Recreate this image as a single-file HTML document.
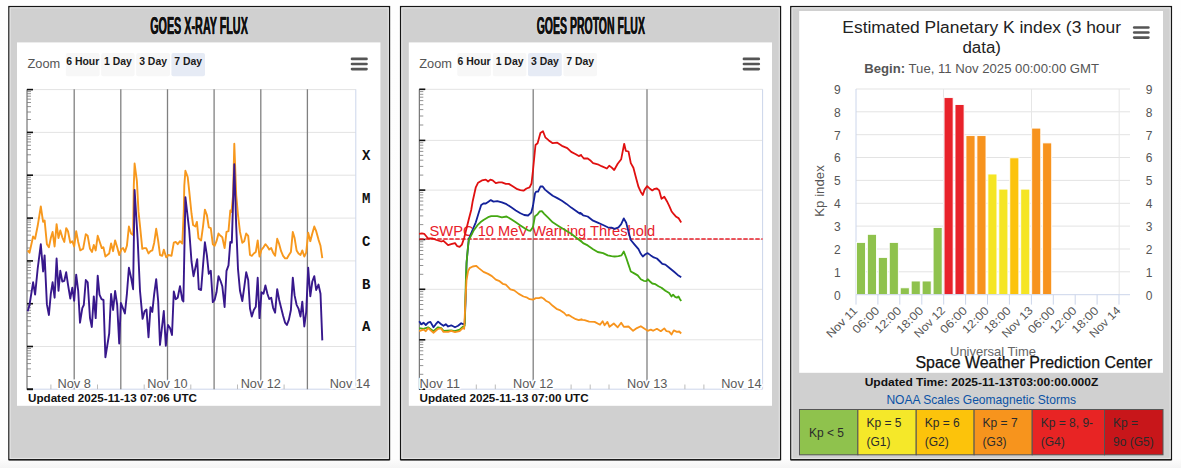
<!DOCTYPE html>
<html><head><meta charset="utf-8"><title>Space Weather</title>
<style>
html,body{margin:0;padding:0;background:#fff;}
body{width:1181px;height:468px;overflow:hidden;font-family:"Liberation Sans",sans-serif;}
svg{display:block}
text{font-family:"Liberation Sans",sans-serif;}
.mono{font-family:"Liberation Mono",monospace;}
</style></head><body>
<svg width="1181" height="468" viewBox="0 0 1181 468">
<defs><linearGradient id="bg" x1="0" y1="0" x2="0" y2="1"><stop offset="0" stop-color="#fefefe"/><stop offset="0.98" stop-color="#fdfdfd"/><stop offset="1" stop-color="#f4f4f4"/></linearGradient></defs>
<rect x="0" y="0" width="1181" height="468" fill="url(#bg)"/>

<rect x="8.9" y="6.6" width="380.6" height="453.0" fill="#d0d0d0" stroke="#151515" stroke-width="1.35"/>
<line x1="8.9" y1="460.2" x2="389.5" y2="460.2" stroke="#333" stroke-width="0.8"/>
<rect x="10.1" y="7.8" width="378.2" height="450.6" fill="none" stroke="#e8e8e8" stroke-width="1"/>
<rect x="17" y="42.4" width="363.4" height="363.4" fill="#fff"/>
<text x="199" y="33.5" font-size="23.5" font-weight="bold" fill="#111" stroke="#e4e4e4" stroke-width="2" paint-order="stroke" stroke-linejoin="round" text-anchor="middle" textLength="97.7" lengthAdjust="spacingAndGlyphs">GOES X-RAY FLUX</text>
<text x="199" y="33.5" font-size="23.5" font-weight="bold" fill="#111" stroke="#111" stroke-width="0.45" text-anchor="middle" textLength="97.7" lengthAdjust="spacingAndGlyphs">GOES X-RAY FLUX</text>
<text x="27.5" y="67.7" font-size="12.5" fill="#555" textLength="32.7" lengthAdjust="spacingAndGlyphs">Zoom</text>
<rect x="65.8" y="53" width="33.8" height="23.3" rx="2" fill="#f7f7f7"/>
<text x="82.7" y="64.9" font-size="10.2" font-weight="bold" fill="#1a1a1a" text-anchor="middle" textLength="33" lengthAdjust="spacingAndGlyphs">6 Hour</text>
<rect x="101.2" y="53" width="33.4" height="23.3" rx="2" fill="#f7f7f7"/>
<text x="117.9" y="64.9" font-size="10.2" font-weight="bold" fill="#1a1a1a" text-anchor="middle" textLength="27.8" lengthAdjust="spacingAndGlyphs">1 Day</text>
<rect x="136.2" y="53" width="33.8" height="23.3" rx="2" fill="#f7f7f7"/>
<text x="153.1" y="64.9" font-size="10.2" font-weight="bold" fill="#1a1a1a" text-anchor="middle" textLength="27.8" lengthAdjust="spacingAndGlyphs">3 Day</text>
<rect x="171.4" y="53" width="33.6" height="23.3" rx="2" fill="#e6ebf5"/>
<text x="188.2" y="64.9" font-size="10.2" font-weight="bold" fill="#1a1a1a" text-anchor="middle" textLength="27.8" lengthAdjust="spacingAndGlyphs">7 Day</text>
<line x1="352.0" y1="58.9" x2="366.5" y2="58.9" stroke="#555" stroke-width="2.6" stroke-linecap="round"/>
<line x1="352.0" y1="64" x2="366.5" y2="64" stroke="#555" stroke-width="2.6" stroke-linecap="round"/>
<line x1="352.0" y1="69.1" x2="366.5" y2="69.1" stroke="#555" stroke-width="2.6" stroke-linecap="round"/>
<line x1="27" y1="89.6" x2="355.8" y2="89.6" stroke="#e3e3e3" stroke-width="1"/>
<line x1="27" y1="132.4" x2="355.8" y2="132.4" stroke="#e3e3e3" stroke-width="1"/>
<line x1="27" y1="175.2" x2="355.8" y2="175.2" stroke="#e3e3e3" stroke-width="1"/>
<line x1="27" y1="218.1" x2="355.8" y2="218.1" stroke="#e3e3e3" stroke-width="1"/>
<line x1="27" y1="260.9" x2="355.8" y2="260.9" stroke="#e3e3e3" stroke-width="1"/>
<line x1="27" y1="303.7" x2="355.8" y2="303.7" stroke="#e3e3e3" stroke-width="1"/>
<line x1="27" y1="346.5" x2="355.8" y2="346.5" stroke="#e3e3e3" stroke-width="1"/>
<line x1="355.8" y1="89.3" x2="355.8" y2="389.2" stroke="#ccd6eb" stroke-width="1"/>
<line x1="27" y1="389.2" x2="355.8" y2="389.2" stroke="#ccd6eb" stroke-width="1"/>
<line x1="74.2" y1="89.3" x2="74.2" y2="389.2" stroke="#808080" stroke-width="1.3"/>
<line x1="120.8" y1="89.3" x2="120.8" y2="389.2" stroke="#808080" stroke-width="1.3"/>
<line x1="167.5" y1="89.3" x2="167.5" y2="389.2" stroke="#808080" stroke-width="1.3"/>
<line x1="214.1" y1="89.3" x2="214.1" y2="389.2" stroke="#808080" stroke-width="1.3"/>
<line x1="260.8" y1="89.3" x2="260.8" y2="389.2" stroke="#808080" stroke-width="1.3"/>
<line x1="307.4" y1="89.3" x2="307.4" y2="389.2" stroke="#808080" stroke-width="1.3"/>
<line x1="50.9" y1="384.5" x2="50.9" y2="389.2" stroke="#bbb" stroke-width="1"/>
<line x1="97.5" y1="384.5" x2="97.5" y2="389.2" stroke="#bbb" stroke-width="1"/>
<line x1="144.2" y1="384.5" x2="144.2" y2="389.2" stroke="#bbb" stroke-width="1"/>
<line x1="190.8" y1="384.5" x2="190.8" y2="389.2" stroke="#bbb" stroke-width="1"/>
<line x1="237.5" y1="384.5" x2="237.5" y2="389.2" stroke="#bbb" stroke-width="1"/>
<line x1="284.1" y1="384.5" x2="284.1" y2="389.2" stroke="#bbb" stroke-width="1"/>
<line x1="330.8" y1="384.5" x2="330.8" y2="389.2" stroke="#bbb" stroke-width="1"/>
<line x1="27" y1="89.3" x2="27" y2="389.7" stroke="#5a5a5a" stroke-width="1"/>
<line x1="27" y1="119.5" x2="31" y2="119.5" stroke="#777" stroke-width="0.8"/>
<line x1="27" y1="112.0" x2="31" y2="112.0" stroke="#777" stroke-width="0.8"/>
<line x1="27" y1="106.6" x2="31" y2="106.6" stroke="#777" stroke-width="0.8"/>
<line x1="27" y1="102.5" x2="31" y2="102.5" stroke="#777" stroke-width="0.8"/>
<line x1="27" y1="99.1" x2="31" y2="99.1" stroke="#777" stroke-width="0.8"/>
<line x1="27" y1="96.2" x2="31" y2="96.2" stroke="#777" stroke-width="0.8"/>
<line x1="27" y1="93.7" x2="31" y2="93.7" stroke="#777" stroke-width="0.8"/>
<line x1="27" y1="91.6" x2="31" y2="91.6" stroke="#777" stroke-width="0.8"/>
<line x1="27" y1="162.3" x2="31" y2="162.3" stroke="#777" stroke-width="0.8"/>
<line x1="27" y1="154.8" x2="31" y2="154.8" stroke="#777" stroke-width="0.8"/>
<line x1="27" y1="149.5" x2="31" y2="149.5" stroke="#777" stroke-width="0.8"/>
<line x1="27" y1="145.3" x2="31" y2="145.3" stroke="#777" stroke-width="0.8"/>
<line x1="27" y1="141.9" x2="31" y2="141.9" stroke="#777" stroke-width="0.8"/>
<line x1="27" y1="139.1" x2="31" y2="139.1" stroke="#777" stroke-width="0.8"/>
<line x1="27" y1="136.6" x2="31" y2="136.6" stroke="#777" stroke-width="0.8"/>
<line x1="27" y1="134.4" x2="31" y2="134.4" stroke="#777" stroke-width="0.8"/>
<line x1="27" y1="205.2" x2="31" y2="205.2" stroke="#777" stroke-width="0.8"/>
<line x1="27" y1="197.6" x2="31" y2="197.6" stroke="#777" stroke-width="0.8"/>
<line x1="27" y1="192.3" x2="31" y2="192.3" stroke="#777" stroke-width="0.8"/>
<line x1="27" y1="188.1" x2="31" y2="188.1" stroke="#777" stroke-width="0.8"/>
<line x1="27" y1="184.7" x2="31" y2="184.7" stroke="#777" stroke-width="0.8"/>
<line x1="27" y1="181.9" x2="31" y2="181.9" stroke="#777" stroke-width="0.8"/>
<line x1="27" y1="179.4" x2="31" y2="179.4" stroke="#777" stroke-width="0.8"/>
<line x1="27" y1="177.2" x2="31" y2="177.2" stroke="#777" stroke-width="0.8"/>
<line x1="27" y1="248.0" x2="31" y2="248.0" stroke="#777" stroke-width="0.8"/>
<line x1="27" y1="240.4" x2="31" y2="240.4" stroke="#777" stroke-width="0.8"/>
<line x1="27" y1="235.1" x2="31" y2="235.1" stroke="#777" stroke-width="0.8"/>
<line x1="27" y1="231.0" x2="31" y2="231.0" stroke="#777" stroke-width="0.8"/>
<line x1="27" y1="227.6" x2="31" y2="227.6" stroke="#777" stroke-width="0.8"/>
<line x1="27" y1="224.7" x2="31" y2="224.7" stroke="#777" stroke-width="0.8"/>
<line x1="27" y1="222.2" x2="31" y2="222.2" stroke="#777" stroke-width="0.8"/>
<line x1="27" y1="220.0" x2="31" y2="220.0" stroke="#777" stroke-width="0.8"/>
<line x1="27" y1="290.8" x2="31" y2="290.8" stroke="#777" stroke-width="0.8"/>
<line x1="27" y1="283.3" x2="31" y2="283.3" stroke="#777" stroke-width="0.8"/>
<line x1="27" y1="277.9" x2="31" y2="277.9" stroke="#777" stroke-width="0.8"/>
<line x1="27" y1="273.8" x2="31" y2="273.8" stroke="#777" stroke-width="0.8"/>
<line x1="27" y1="270.4" x2="31" y2="270.4" stroke="#777" stroke-width="0.8"/>
<line x1="27" y1="267.5" x2="31" y2="267.5" stroke="#777" stroke-width="0.8"/>
<line x1="27" y1="265.0" x2="31" y2="265.0" stroke="#777" stroke-width="0.8"/>
<line x1="27" y1="262.8" x2="31" y2="262.8" stroke="#777" stroke-width="0.8"/>
<line x1="27" y1="333.6" x2="31" y2="333.6" stroke="#777" stroke-width="0.8"/>
<line x1="27" y1="326.1" x2="31" y2="326.1" stroke="#777" stroke-width="0.8"/>
<line x1="27" y1="320.7" x2="31" y2="320.7" stroke="#777" stroke-width="0.8"/>
<line x1="27" y1="316.6" x2="31" y2="316.6" stroke="#777" stroke-width="0.8"/>
<line x1="27" y1="313.2" x2="31" y2="313.2" stroke="#777" stroke-width="0.8"/>
<line x1="27" y1="310.3" x2="31" y2="310.3" stroke="#777" stroke-width="0.8"/>
<line x1="27" y1="307.8" x2="31" y2="307.8" stroke="#777" stroke-width="0.8"/>
<line x1="27" y1="305.7" x2="31" y2="305.7" stroke="#777" stroke-width="0.8"/>
<line x1="27" y1="376.5" x2="31" y2="376.5" stroke="#777" stroke-width="0.8"/>
<line x1="27" y1="368.9" x2="31" y2="368.9" stroke="#777" stroke-width="0.8"/>
<line x1="27" y1="363.6" x2="31" y2="363.6" stroke="#777" stroke-width="0.8"/>
<line x1="27" y1="359.4" x2="31" y2="359.4" stroke="#777" stroke-width="0.8"/>
<line x1="27" y1="356.0" x2="31" y2="356.0" stroke="#777" stroke-width="0.8"/>
<line x1="27" y1="353.2" x2="31" y2="353.2" stroke="#777" stroke-width="0.8"/>
<line x1="27" y1="350.7" x2="31" y2="350.7" stroke="#777" stroke-width="0.8"/>
<line x1="27" y1="348.5" x2="31" y2="348.5" stroke="#777" stroke-width="0.8"/>
<line x1="27" y1="89.6" x2="33" y2="89.6" stroke="#111" stroke-width="1.6"/>
<line x1="27" y1="132.4" x2="33" y2="132.4" stroke="#111" stroke-width="1.6"/>
<line x1="27" y1="175.2" x2="33" y2="175.2" stroke="#111" stroke-width="1.6"/>
<line x1="27" y1="218.1" x2="33" y2="218.1" stroke="#111" stroke-width="1.6"/>
<line x1="27" y1="260.9" x2="33" y2="260.9" stroke="#111" stroke-width="1.6"/>
<line x1="27" y1="303.7" x2="33" y2="303.7" stroke="#111" stroke-width="1.6"/>
<line x1="27" y1="346.5" x2="33" y2="346.5" stroke="#111" stroke-width="1.6"/>
<line x1="27" y1="389.4" x2="33" y2="389.4" stroke="#111" stroke-width="1.6"/>
<line x1="27" y1="389.2" x2="33" y2="389.2" stroke="#111" stroke-width="1.6"/>
<polyline points="27.7,250.4 29.5,252.7 33.1,236.5 35.1,238.8 37.7,225.8 40.8,206.5 43.1,221.9 44.6,220.4 46.9,244.2 48.9,247.3 50.8,238.1 52.6,231.9 54.6,246.5 56.6,224.2 58.5,238.1 60.3,230.4 62.3,237.3 64.3,241.9 66.2,228.1 68.0,231.2 70.3,242.7 72.3,241.2 74.2,246.5 76.2,231.2 78.2,241.9 80.3,250.4 83.1,248.8 85.8,234.2 87.7,235.8 90.0,248.8 92.0,251.9 93.8,245.0 95.7,250.4 97.7,235.8 100.0,242.7 101.8,248.1 103.4,247.3 105.4,256.5 109.2,253.5 111.1,243.5 113.1,251.2 115.1,240.4 117.2,247.3 119.2,255.0 121.5,248.8 123.1,248.1 124.9,251.9 126.9,245.8 128.9,226.5 131.1,233.5 133.1,235.0 133.8,185.8 134.6,163.5 136.9,181.2 138.5,211.9 140.0,225.8 142.3,248.8 144.3,248.1 146.2,248.1 148.5,253.5 150.5,251.2 152.3,250.4 154.2,242.7 156.2,228.8 158.2,241.2 160.0,255.0 162.3,255.8 163.8,249.6 166.2,257.3 168.5,255.0 171.5,255.8 173.8,242.7 175.7,241.9 177.7,244.2 180.0,241.2 182.3,243.5 183.8,210.4 184.3,185.8 185.4,170.8 187.7,177.0 189.2,190.8 191.5,213.5 193.1,225.0 195.4,226.5 196.9,221.9 198.5,238.1 200.0,239.6 201.1,240.4 203.1,225.8 204.9,209.6 206.9,215.0 208.8,227.3 210.8,228.1 212.8,244.2 214.6,245.8 216.5,241.2 218.5,233.5 220.5,235.8 222.3,237.3 224.6,248.1 226.5,231.9 228.5,231.2 230.3,210.4 231.5,211.9 233.1,195.0 234.3,143.8 236.2,195.0 238.0,215.0 240.0,231.9 242.3,242.7 244.2,241.2 246.2,233.5 248.2,235.8 250.0,255.0 251.8,255.8 253.8,253.5 255.8,251.9 257.7,240.4 259.5,256.5 261.5,249.6 263.5,247.3 265.4,244.2 267.4,246.5 269.2,249.6 271.2,248.1 273.1,252.7 275.1,255.8 277.2,238.8 279.2,244.2 281.1,251.2 283.1,255.8 285.1,258.4 286.9,258.4 288.9,255.0 290.9,251.9 292.8,231.9 294.6,238.1 296.6,250.4 298.5,253.5 300.5,255.0 302.3,250.4 304.3,256.5 306.2,252.7 308.2,232.7 310.3,241.2 312.3,233.5 314.3,226.5 316.2,231.2 318.5,239.6 320.5,245.8 322.3,258.1" fill="none" stroke="#f7981d" stroke-width="1.9" stroke-linejoin="round"/>
<polyline points="27.7,311.2 29.5,305.0 33.1,282.3 35.1,294.6 37.7,268.5 40.8,244.3 43.1,271.5 44.6,255.4 46.9,304.4 48.9,315.0 50.8,293.8 52.6,282.3 54.6,297.7 56.6,258.5 58.5,290.8 60.3,270.8 62.3,281.5 64.3,280.8 66.2,272.3 68.0,284.6 70.3,298.5 72.3,287.7 74.2,300.8 76.2,274.6 78.2,290.8 80.0,322.7 82.3,308.1 83.8,305.0 85.8,280.0 87.7,282.3 90.0,318.1 91.8,327.0 93.8,296.4 95.7,318.1 97.7,275.7 99.5,294.6 101.5,299.2 103.5,300.0 105.4,357.3 109.2,333.5 111.1,294.0 113.1,310.0 115.1,291.0 117.2,305.0 119.2,343.5 120.9,303.0 123.1,308.6 124.9,313.5 126.9,293.8 128.9,267.7 131.1,277.7 133.1,289.2 134.6,190.0 137.7,240.0 140.0,290.8 142.6,318.8 144.6,311.2 146.5,309.6 148.5,337.3 150.5,307.1 152.3,311.9 154.2,293.8 156.2,279.2 158.2,301.5 160.0,345.0 163.8,311.0 165.8,345.8 168.0,325.0 170.0,328.1 172.0,335.0 173.8,291.5 175.7,299.2 177.7,297.7 180.0,286.2 182.3,300.0 183.4,301.5 185.4,197.2 189.2,230.0 191.5,261.5 193.5,276.2 195.4,267.7 197.2,259.2 198.8,289.2 201.1,290.0 203.1,264.6 204.9,242.3 206.9,255.4 208.8,273.8 210.8,270.8 212.8,302.1 214.6,300.0 216.5,292.3 218.5,276.2 220.5,280.8 222.3,286.2 224.6,307.0 226.5,270.8 228.5,265.4 230.3,242.0 231.8,242.7 234.3,164.2 236.2,225.8 238.0,269.2 240.0,290.8 242.3,301.0 244.2,287.7 246.2,272.3 248.2,280.0 250.0,308.6 251.8,316.5 253.8,310.0 255.8,306.7 257.7,277.7 259.5,318.1 261.5,292.3 263.5,293.8 265.4,285.4 267.4,293.8 269.2,299.0 271.2,297.8 273.1,307.8 275.1,312.7 277.2,289.2 279.2,300.0 281.1,307.8 283.1,315.8 285.1,322.7 286.9,325.0 288.9,319.6 290.9,310.0 292.8,277.7 294.6,295.4 296.6,304.8 298.5,308.6 300.5,316.5 302.3,301.7 304.3,326.5 306.2,312.0 308.2,267.7 310.3,296.3 312.3,281.5 314.3,276.2 316.2,290.0 318.5,284.6 320.5,293.8 322.3,340.4" fill="none" stroke="#38188c" stroke-width="1.9" stroke-linejoin="round"/>
<text x="74.2" y="388.4" font-size="12.2" fill="#5a5a5a" text-anchor="middle" stroke="#fff" stroke-width="3" paint-order="stroke" stroke-linejoin="round" textLength="33.4" lengthAdjust="spacingAndGlyphs">Nov 8</text>
<text x="167.5" y="388.4" font-size="12.2" fill="#5a5a5a" text-anchor="middle" stroke="#fff" stroke-width="3" paint-order="stroke" stroke-linejoin="round" textLength="40.3" lengthAdjust="spacingAndGlyphs">Nov 10</text>
<text x="260.8" y="388.4" font-size="12.2" fill="#5a5a5a" text-anchor="middle" stroke="#fff" stroke-width="3" paint-order="stroke" stroke-linejoin="round" textLength="40.3" lengthAdjust="spacingAndGlyphs">Nov 12</text>
<text x="370" y="388.4" font-size="12.2" fill="#5a5a5a" text-anchor="end" stroke="#fff" stroke-width="3" paint-order="stroke" stroke-linejoin="round" textLength="40.3" lengthAdjust="spacingAndGlyphs">Nov 14</text>
<text class="mono" x="366.3" y="160.0" font-size="14" font-weight="bold" fill="#111" text-anchor="middle">X</text>
<text class="mono" x="366.3" y="202.9" font-size="14" font-weight="bold" fill="#111" text-anchor="middle">M</text>
<text class="mono" x="366.3" y="245.7" font-size="14" font-weight="bold" fill="#111" text-anchor="middle">C</text>
<text class="mono" x="366.3" y="288.5" font-size="14" font-weight="bold" fill="#111" text-anchor="middle">B</text>
<text class="mono" x="366.3" y="331.3" font-size="14" font-weight="bold" fill="#111" text-anchor="middle">A</text>
<text x="28" y="401.5" font-size="10" font-weight="bold" fill="#111" textLength="169" lengthAdjust="spacingAndGlyphs">Updated 2025-11-13 07:06 UTC</text>
<rect x="400.6" y="6.6" width="379.9" height="453.0" fill="#d0d0d0" stroke="#151515" stroke-width="1.35"/>
<line x1="400.6" y1="460.2" x2="780.5" y2="460.2" stroke="#333" stroke-width="0.8"/>
<rect x="401.8" y="7.8" width="377.5" height="450.6" fill="none" stroke="#e8e8e8" stroke-width="1"/>
<rect x="408.8" y="42.4" width="363.2" height="363.4" fill="#fff"/>
<text x="590.8" y="34.2" font-size="23.5" font-weight="bold" fill="#111" stroke="#e4e4e4" stroke-width="2" paint-order="stroke" stroke-linejoin="round" text-anchor="middle" textLength="108.3" lengthAdjust="spacingAndGlyphs">GOES PROTON FLUX</text>
<text x="590.8" y="34.2" font-size="23.5" font-weight="bold" fill="#111" stroke="#111" stroke-width="0.45" text-anchor="middle" textLength="108.3" lengthAdjust="spacingAndGlyphs">GOES PROTON FLUX</text>
<text x="419.3" y="67.7" font-size="12.5" fill="#555" textLength="32.7" lengthAdjust="spacingAndGlyphs">Zoom</text>
<rect x="457.3" y="53" width="33.7" height="23.3" rx="2" fill="#f7f7f7"/>
<text x="474.1" y="64.9" font-size="10.2" font-weight="bold" fill="#1a1a1a" text-anchor="middle" textLength="33" lengthAdjust="spacingAndGlyphs">6 Hour</text>
<rect x="492.8" y="53" width="33.6" height="23.3" rx="2" fill="#f7f7f7"/>
<text x="509.6" y="64.9" font-size="10.2" font-weight="bold" fill="#1a1a1a" text-anchor="middle" textLength="27.8" lengthAdjust="spacingAndGlyphs">1 Day</text>
<rect x="528" y="53" width="33.8" height="23.3" rx="2" fill="#e6ebf5"/>
<text x="544.9" y="64.9" font-size="10.2" font-weight="bold" fill="#1a1a1a" text-anchor="middle" textLength="27.8" lengthAdjust="spacingAndGlyphs">3 Day</text>
<rect x="563.4" y="53" width="33.6" height="23.3" rx="2" fill="#f7f7f7"/>
<text x="580.2" y="64.9" font-size="10.2" font-weight="bold" fill="#1a1a1a" text-anchor="middle" textLength="27.8" lengthAdjust="spacingAndGlyphs">7 Day</text>
<line x1="743.9000000000001" y1="58.9" x2="758.8" y2="58.9" stroke="#555" stroke-width="2.6" stroke-linecap="round"/>
<line x1="743.9000000000001" y1="64" x2="758.8" y2="64" stroke="#555" stroke-width="2.6" stroke-linecap="round"/>
<line x1="743.9000000000001" y1="69.1" x2="758.8" y2="69.1" stroke="#555" stroke-width="2.6" stroke-linecap="round"/>
<line x1="419.3" y1="89.3" x2="762.6" y2="89.3" stroke="#e3e3e3" stroke-width="1"/>
<line x1="419.3" y1="140.4" x2="762.6" y2="140.4" stroke="#e3e3e3" stroke-width="1"/>
<line x1="419.3" y1="190.1" x2="762.6" y2="190.1" stroke="#e3e3e3" stroke-width="1"/>
<line x1="419.3" y1="239.5" x2="762.6" y2="239.5" stroke="#e3e3e3" stroke-width="1"/>
<line x1="419.3" y1="289.3" x2="762.6" y2="289.3" stroke="#e3e3e3" stroke-width="1"/>
<line x1="419.3" y1="339.8" x2="762.6" y2="339.8" stroke="#e3e3e3" stroke-width="1"/>
<line x1="762.6" y1="89.3" x2="762.6" y2="389.2" stroke="#ccd6eb" stroke-width="1"/>
<line x1="419.3" y1="389.2" x2="762.6" y2="389.2" stroke="#ccd6eb" stroke-width="1"/>
<line x1="533.2" y1="89.3" x2="533.2" y2="389.2" stroke="#808080" stroke-width="1.3"/>
<line x1="647.0" y1="89.3" x2="647.0" y2="389.2" stroke="#808080" stroke-width="1.3"/>
<line x1="457.4" y1="384.5" x2="457.4" y2="389.2" stroke="#bbb" stroke-width="1"/>
<line x1="476.3" y1="384.5" x2="476.3" y2="389.2" stroke="#bbb" stroke-width="1"/>
<line x1="495.3" y1="384.5" x2="495.3" y2="389.2" stroke="#bbb" stroke-width="1"/>
<line x1="571.1" y1="384.5" x2="571.1" y2="389.2" stroke="#bbb" stroke-width="1"/>
<line x1="590.2" y1="384.5" x2="590.2" y2="389.2" stroke="#bbb" stroke-width="1"/>
<line x1="609.0" y1="384.5" x2="609.0" y2="389.2" stroke="#bbb" stroke-width="1"/>
<line x1="684.9" y1="384.5" x2="684.9" y2="389.2" stroke="#bbb" stroke-width="1"/>
<line x1="703.9" y1="384.5" x2="703.9" y2="389.2" stroke="#bbb" stroke-width="1"/>
<line x1="722.8" y1="384.5" x2="722.8" y2="389.2" stroke="#bbb" stroke-width="1"/>
<line x1="419.3" y1="89.3" x2="419.3" y2="389.7" stroke="#5a5a5a" stroke-width="1"/>
<line x1="419.3" y1="125.0" x2="423.3" y2="125.0" stroke="#777" stroke-width="0.8"/>
<line x1="419.3" y1="116.0" x2="423.3" y2="116.0" stroke="#777" stroke-width="0.8"/>
<line x1="419.3" y1="109.6" x2="423.3" y2="109.6" stroke="#777" stroke-width="0.8"/>
<line x1="419.3" y1="104.7" x2="423.3" y2="104.7" stroke="#777" stroke-width="0.8"/>
<line x1="419.3" y1="100.6" x2="423.3" y2="100.6" stroke="#777" stroke-width="0.8"/>
<line x1="419.3" y1="97.2" x2="423.3" y2="97.2" stroke="#777" stroke-width="0.8"/>
<line x1="419.3" y1="94.3" x2="423.3" y2="94.3" stroke="#777" stroke-width="0.8"/>
<line x1="419.3" y1="91.6" x2="423.3" y2="91.6" stroke="#777" stroke-width="0.8"/>
<line x1="419.3" y1="175.1" x2="423.3" y2="175.1" stroke="#777" stroke-width="0.8"/>
<line x1="419.3" y1="166.4" x2="423.3" y2="166.4" stroke="#777" stroke-width="0.8"/>
<line x1="419.3" y1="160.2" x2="423.3" y2="160.2" stroke="#777" stroke-width="0.8"/>
<line x1="419.3" y1="155.4" x2="423.3" y2="155.4" stroke="#777" stroke-width="0.8"/>
<line x1="419.3" y1="151.4" x2="423.3" y2="151.4" stroke="#777" stroke-width="0.8"/>
<line x1="419.3" y1="148.1" x2="423.3" y2="148.1" stroke="#777" stroke-width="0.8"/>
<line x1="419.3" y1="145.2" x2="423.3" y2="145.2" stroke="#777" stroke-width="0.8"/>
<line x1="419.3" y1="142.7" x2="423.3" y2="142.7" stroke="#777" stroke-width="0.8"/>
<line x1="419.3" y1="224.6" x2="423.3" y2="224.6" stroke="#777" stroke-width="0.8"/>
<line x1="419.3" y1="215.9" x2="423.3" y2="215.9" stroke="#777" stroke-width="0.8"/>
<line x1="419.3" y1="209.8" x2="423.3" y2="209.8" stroke="#777" stroke-width="0.8"/>
<line x1="419.3" y1="205.0" x2="423.3" y2="205.0" stroke="#777" stroke-width="0.8"/>
<line x1="419.3" y1="201.1" x2="423.3" y2="201.1" stroke="#777" stroke-width="0.8"/>
<line x1="419.3" y1="197.8" x2="423.3" y2="197.8" stroke="#777" stroke-width="0.8"/>
<line x1="419.3" y1="194.9" x2="423.3" y2="194.9" stroke="#777" stroke-width="0.8"/>
<line x1="419.3" y1="192.4" x2="423.3" y2="192.4" stroke="#777" stroke-width="0.8"/>
<line x1="419.3" y1="274.3" x2="423.3" y2="274.3" stroke="#777" stroke-width="0.8"/>
<line x1="419.3" y1="265.5" x2="423.3" y2="265.5" stroke="#777" stroke-width="0.8"/>
<line x1="419.3" y1="259.3" x2="423.3" y2="259.3" stroke="#777" stroke-width="0.8"/>
<line x1="419.3" y1="254.5" x2="423.3" y2="254.5" stroke="#777" stroke-width="0.8"/>
<line x1="419.3" y1="250.5" x2="423.3" y2="250.5" stroke="#777" stroke-width="0.8"/>
<line x1="419.3" y1="247.2" x2="423.3" y2="247.2" stroke="#777" stroke-width="0.8"/>
<line x1="419.3" y1="244.3" x2="423.3" y2="244.3" stroke="#777" stroke-width="0.8"/>
<line x1="419.3" y1="241.8" x2="423.3" y2="241.8" stroke="#777" stroke-width="0.8"/>
<line x1="419.3" y1="324.6" x2="423.3" y2="324.6" stroke="#777" stroke-width="0.8"/>
<line x1="419.3" y1="315.7" x2="423.3" y2="315.7" stroke="#777" stroke-width="0.8"/>
<line x1="419.3" y1="309.4" x2="423.3" y2="309.4" stroke="#777" stroke-width="0.8"/>
<line x1="419.3" y1="304.5" x2="423.3" y2="304.5" stroke="#777" stroke-width="0.8"/>
<line x1="419.3" y1="300.5" x2="423.3" y2="300.5" stroke="#777" stroke-width="0.8"/>
<line x1="419.3" y1="297.1" x2="423.3" y2="297.1" stroke="#777" stroke-width="0.8"/>
<line x1="419.3" y1="294.2" x2="423.3" y2="294.2" stroke="#777" stroke-width="0.8"/>
<line x1="419.3" y1="291.6" x2="423.3" y2="291.6" stroke="#777" stroke-width="0.8"/>
<line x1="419.3" y1="374.3" x2="423.3" y2="374.3" stroke="#777" stroke-width="0.8"/>
<line x1="419.3" y1="365.6" x2="423.3" y2="365.6" stroke="#777" stroke-width="0.8"/>
<line x1="419.3" y1="359.5" x2="423.3" y2="359.5" stroke="#777" stroke-width="0.8"/>
<line x1="419.3" y1="354.7" x2="423.3" y2="354.7" stroke="#777" stroke-width="0.8"/>
<line x1="419.3" y1="350.8" x2="423.3" y2="350.8" stroke="#777" stroke-width="0.8"/>
<line x1="419.3" y1="347.5" x2="423.3" y2="347.5" stroke="#777" stroke-width="0.8"/>
<line x1="419.3" y1="344.6" x2="423.3" y2="344.6" stroke="#777" stroke-width="0.8"/>
<line x1="419.3" y1="342.1" x2="423.3" y2="342.1" stroke="#777" stroke-width="0.8"/>
<line x1="419.3" y1="89.3" x2="425.3" y2="89.3" stroke="#111" stroke-width="1.6"/>
<line x1="419.3" y1="140.4" x2="425.3" y2="140.4" stroke="#111" stroke-width="1.6"/>
<line x1="419.3" y1="190.1" x2="425.3" y2="190.1" stroke="#111" stroke-width="1.6"/>
<line x1="419.3" y1="239.5" x2="425.3" y2="239.5" stroke="#111" stroke-width="1.6"/>
<line x1="419.3" y1="289.3" x2="425.3" y2="289.3" stroke="#111" stroke-width="1.6"/>
<line x1="419.3" y1="339.8" x2="425.3" y2="339.8" stroke="#111" stroke-width="1.6"/>
<line x1="419.3" y1="389.2" x2="425.3" y2="389.2" stroke="#111" stroke-width="1.6"/>
<line x1="419.3" y1="239" x2="762.6" y2="239" stroke="#e8212b" stroke-width="1.3" stroke-dasharray="4.4,1.6"/>
<text x="429.6" y="235.5" font-size="14.2" fill="#e8212b" textLength="225.6" lengthAdjust="spacingAndGlyphs">SWPC 10 MeV Warning Threshold</text>
<polyline points="419.2,321.2 421.2,324.2 423.5,322.7 425.8,325.0 428.1,322.7 430.4,321.9 433.5,327.3 435.8,324.2 438.1,321.6 441.2,324.2 443.5,325.8 445.8,324.2 448.1,326.5 451.2,325.3 455.0,327.3 458.1,325.8 461.2,323.2 463.2,324.2 464.7,323.5 465.6,300.0 466.6,262.0 468.8,239.2 471.9,231.5 475.8,222.3 478.8,212.5 481.2,205.0 483.5,203.5 485.8,203.5 488.1,201.9 490.8,200.1 493.5,201.6 497.3,201.2 501.9,202.4 506.5,204.2 511.2,207.3 515.8,210.4 520.4,213.2 524.2,215.0 528.1,215.5 531.2,212.7 533.0,205.8 535.0,193.5 536.1,191.6 538.1,191.6 540.4,186.5 542.7,186.5 545.0,189.6 548.8,192.7 552.7,195.8 557.3,198.1 561.9,200.8 566.5,203.9 571.2,207.6 575.8,210.7 579.6,213.5 581.9,213.8 580.0,212.7 583.1,215.3 587.7,216.5 593.1,220.7 597.7,222.7 603.1,225.0 607.7,227.3 611.5,227.6 614.6,228.8 618.5,227.3 621.2,224.2 623.8,218.4 626.2,222.7 628.5,231.9 630.8,240.0 634.6,244.6 638.5,249.2 640.8,253.8 642.8,256.5 645.4,254.3 647.7,253.1 650.8,255.4 653.8,257.4 656.9,258.5 660.0,261.5 662.3,263.8 665.4,264.6 669.2,267.7 673.8,271.5 677.7,274.9 681.2,277.2" fill="none" stroke="#14229a" stroke-width="1.8" stroke-linejoin="round"/>
<polyline points="419.2,328.1 423.5,328.8 428.1,327.3 433.5,331.2 438.1,327.3 441.2,328.1 443.5,330.8 451.2,330.4 455.0,331.2 459.6,329.6 463.2,326.5 464.7,325.8 465.8,282.0 466.5,263.8 467.8,248.5 468.8,240.0 471.2,235.4 473.5,230.8 477.3,225.4 480.4,222.3 483.5,220.0 488.1,217.2 491.2,216.2 497.3,216.2 501.9,217.4 506.5,216.5 511.2,219.2 515.8,222.3 520.4,225.4 525.0,228.5 528.1,230.3 530.4,230.8 533.0,226.9 535.0,216.2 537.3,214.6 539.6,211.5 541.9,211.2 544.2,213.8 548.1,217.7 552.7,222.3 558.8,226.2 565.0,230.0 571.2,233.8 577.3,238.5 581.9,242.0 580.0,240.0 583.1,243.1 587.7,245.4 593.1,249.2 597.7,252.0 603.1,253.1 607.7,255.4 611.5,256.2 614.6,256.5 618.5,256.2 621.5,255.4 623.8,251.5 626.2,257.7 628.5,264.6 630.8,271.5 633.8,273.1 637.7,275.4 640.8,279.2 643.8,280.8 646.2,281.2 647.7,279.2 650.0,281.5 652.3,283.5 655.4,284.2 658.5,286.2 661.5,287.7 665.4,290.8 669.2,293.1 671.5,296.5 673.1,294.6 675.1,296.9 676.9,297.7 678.5,296.5 680.0,299.2 681.2,301.1" fill="none" stroke="#44a812" stroke-width="1.8" stroke-linejoin="round"/>
<polyline points="419.2,331.2 423.5,329.6 425.8,331.2 428.1,328.1 433.5,332.7 438.1,328.8 441.2,328.4 443.5,331.9 448.1,331.9 451.2,330.8 455.0,332.2 459.6,331.2 462.7,328.1 464.2,328.8 465.3,303.5 466.5,280.4 468.1,271.2 469.6,268.1 472.7,266.5 476.1,265.8 478.8,268.1 483.5,271.9 488.1,273.9 491.9,276.1 495.8,279.6 499.6,281.2 502.7,283.8 505.8,284.7 510.4,289.3 514.2,290.4 518.8,293.9 523.5,296.5 526.5,297.3 529.6,299.2 533.0,299.6 535.8,298.1 538.8,298.1 541.2,297.3 543.5,298.5 545.8,300.7 548.8,302.2 552.7,305.8 556.5,308.8 560.4,310.4 564.2,313.0 566.5,315.5 568.8,315.0 571.9,317.0 575.8,319.2 578.8,320.1 581.9,319.3 580.0,319.6 584.6,320.1 589.2,321.6 594.6,321.9 600.0,324.7 602.6,321.2 604.6,325.3 607.4,321.9 609.5,326.8 613.8,323.5 617.7,327.3 621.2,322.7 623.8,326.8 628.5,326.5 633.1,330.8 636.9,328.1 640.8,326.2 644.6,328.8 647.7,330.8 650.8,329.6 653.1,330.8 656.9,328.8 660.8,331.2 664.3,328.4 666.5,331.2 669.2,331.6 671.5,334.5 673.8,330.4 676.9,331.9 679.2,331.5 681.2,333.5" fill="none" stroke="#f7941d" stroke-width="1.8" stroke-linejoin="round"/>
<polyline points="419.2,233.8 421.9,233.4 424.2,233.8 428.1,238.5 432.7,238.5 436.5,240.0 441.2,241.5 443.5,240.8 448.1,245.1 451.2,244.2 455.0,243.1 457.3,246.2 459.6,246.9 461.9,244.6 464.2,237.7 466.5,228.5 468.8,219.2 471.2,210.0 472.7,201.2 475.8,187.3 478.1,182.7 481.9,180.4 485.8,179.6 488.1,181.5 490.4,179.6 492.7,180.4 495.8,183.2 498.8,182.4 501.9,182.4 505.8,183.9 508.8,183.9 512.7,186.2 517.3,189.2 520.4,190.1 523.5,190.7 526.5,188.5 529.6,187.3 531.5,183.5 533.0,170.4 534.5,155.0 535.5,145.0 537.6,143.2 540.4,133.0 543.0,131.2 545.3,137.3 548.8,140.4 552.7,143.2 557.3,142.7 561.9,145.8 567.3,148.1 571.2,151.9 575.8,154.2 578.8,156.1 581.2,155.0 580.0,155.4 581.5,155.7 583.8,158.5 587.7,158.5 590.8,160.8 593.1,163.1 597.7,164.3 601.5,166.2 606.9,168.5 609.2,165.7 611.5,167.4 614.2,170.0 617.7,163.8 621.2,159.2 622.8,150.8 624.2,143.8 625.8,150.8 628.5,151.5 630.8,163.1 633.4,167.7 636.2,178.5 638.5,186.9 640.8,191.9 642.8,195.0 644.6,189.6 647.2,186.1 650.0,188.8 652.3,190.4 654.6,188.8 656.9,188.5 659.2,190.4 661.5,198.8 664.3,196.8 666.9,201.2 669.2,205.8 671.5,211.2 673.8,214.2 676.2,216.8 678.5,218.1 681.2,222.4" fill="none" stroke="#e01010" stroke-width="1.8" stroke-linejoin="round"/>
<text x="419.6" y="388.4" font-size="12.2" fill="#5a5a5a" text-anchor="start" stroke="#fff" stroke-width="3" paint-order="stroke" stroke-linejoin="round" textLength="40.3" lengthAdjust="spacingAndGlyphs">Nov 11</text>
<text x="533.2" y="388.4" font-size="12.2" fill="#5a5a5a" text-anchor="middle" stroke="#fff" stroke-width="3" paint-order="stroke" stroke-linejoin="round" textLength="40.3" lengthAdjust="spacingAndGlyphs">Nov 12</text>
<text x="647.2" y="388.4" font-size="12.2" fill="#5a5a5a" text-anchor="middle" stroke="#fff" stroke-width="3" paint-order="stroke" stroke-linejoin="round" textLength="40.3" lengthAdjust="spacingAndGlyphs">Nov 13</text>
<text x="761.5" y="388.4" font-size="12.2" fill="#5a5a5a" text-anchor="end" stroke="#fff" stroke-width="3" paint-order="stroke" stroke-linejoin="round" textLength="40.3" lengthAdjust="spacingAndGlyphs">Nov 14</text>
<text x="419.6" y="401.5" font-size="10" font-weight="bold" fill="#111" textLength="169" lengthAdjust="spacingAndGlyphs">Updated 2025-11-13 07:00 UTC</text>
<rect x="790.8" y="6.6" width="380.6" height="453.0" fill="#d0d0d0" stroke="#151515" stroke-width="1.35"/>
<line x1="790.8" y1="460.2" x2="1171.4" y2="460.2" stroke="#333" stroke-width="0.8"/>
<rect x="792.0" y="7.8" width="378.2" height="450.6" fill="none" stroke="#e8e8e8" stroke-width="1"/>
<rect x="799.2" y="11" width="363.8" height="361.8" fill="#fff"/>
<text x="981.7" y="33.4" font-size="16" fill="#222" text-anchor="middle" textLength="278.7" lengthAdjust="spacingAndGlyphs">Estimated Planetary K index (3 hour</text>
<text x="981.7" y="52.8" font-size="16" fill="#222" text-anchor="middle" textLength="38.5" lengthAdjust="spacingAndGlyphs">data)</text>
<text x="864.3" y="73.3" font-size="12.2" fill="#555" textLength="234.7" lengthAdjust="spacingAndGlyphs"><tspan font-weight="bold">Begin:</tspan> Tue, 11 Nov 2025 00:00:00 GMT</text>
<line x1="1134.2" y1="27.5" x2="1148.3999999999999" y2="27.5" stroke="#555" stroke-width="2.6" stroke-linecap="round"/>
<line x1="1134.2" y1="32.5" x2="1148.3999999999999" y2="32.5" stroke="#555" stroke-width="2.6" stroke-linecap="round"/>
<line x1="1134.2" y1="37.6" x2="1148.3999999999999" y2="37.6" stroke="#555" stroke-width="2.6" stroke-linecap="round"/>
<line x1="856" y1="271.8" x2="1130" y2="271.8" stroke="#e3e3e3" stroke-width="1"/>
<line x1="856" y1="249.0" x2="1130" y2="249.0" stroke="#e3e3e3" stroke-width="1"/>
<line x1="856" y1="226.1" x2="1130" y2="226.1" stroke="#e3e3e3" stroke-width="1"/>
<line x1="856" y1="203.3" x2="1130" y2="203.3" stroke="#e3e3e3" stroke-width="1"/>
<line x1="856" y1="180.4" x2="1130" y2="180.4" stroke="#e3e3e3" stroke-width="1"/>
<line x1="856" y1="157.5" x2="1130" y2="157.5" stroke="#e3e3e3" stroke-width="1"/>
<line x1="856" y1="134.7" x2="1130" y2="134.7" stroke="#e3e3e3" stroke-width="1"/>
<line x1="856" y1="111.8" x2="1130" y2="111.8" stroke="#e3e3e3" stroke-width="1"/>
<line x1="856" y1="89.0" x2="1130" y2="89.0" stroke="#e3e3e3" stroke-width="1"/>
<line x1="943.5" y1="89.0" x2="943.5" y2="294.7" stroke="#e6e6e6" stroke-width="1"/>
<line x1="1031.5" y1="89.0" x2="1031.5" y2="294.7" stroke="#e6e6e6" stroke-width="1"/>
<line x1="1119.2" y1="89.0" x2="1119.2" y2="294.7" stroke="#e6e6e6" stroke-width="1"/>
<line x1="856" y1="89.0" x2="856" y2="294.7" stroke="#ccd6eb" stroke-width="1"/>
<rect x="856.40" y="242.4" width="9.1" height="52.3" fill="#8fc24d" stroke="#fff" stroke-width="0.9"/>
<rect x="867.36" y="234.3" width="9.1" height="60.4" fill="#8fc24d" stroke="#fff" stroke-width="0.9"/>
<rect x="878.31" y="257.4" width="9.1" height="37.3" fill="#8fc24d" stroke="#fff" stroke-width="0.9"/>
<rect x="889.26" y="242.4" width="9.1" height="52.3" fill="#8fc24d" stroke="#fff" stroke-width="0.9"/>
<rect x="900.22" y="287.8" width="9.1" height="6.9" fill="#8fc24d" stroke="#fff" stroke-width="0.9"/>
<rect x="911.17" y="281.0" width="9.1" height="13.7" fill="#8fc24d" stroke="#fff" stroke-width="0.9"/>
<rect x="922.13" y="281.0" width="9.1" height="13.7" fill="#8fc24d" stroke="#fff" stroke-width="0.9"/>
<rect x="933.09" y="227.5" width="9.1" height="67.2" fill="#8fc24d" stroke="#fff" stroke-width="0.9"/>
<rect x="944.04" y="97.6" width="9.1" height="197.1" fill="#e8222a" stroke="#fff" stroke-width="0.9"/>
<rect x="955.00" y="104.5" width="9.1" height="190.2" fill="#e8222a" stroke="#fff" stroke-width="0.9"/>
<rect x="965.95" y="135.6" width="9.1" height="159.1" fill="#f7931e" stroke="#fff" stroke-width="0.9"/>
<rect x="976.90" y="135.6" width="9.1" height="159.1" fill="#f7931e" stroke="#fff" stroke-width="0.9"/>
<rect x="987.86" y="174.0" width="9.1" height="120.7" fill="#f5e524" stroke="#fff" stroke-width="0.9"/>
<rect x="998.81" y="189.1" width="9.1" height="105.6" fill="#f5e524" stroke="#fff" stroke-width="0.9"/>
<rect x="1009.77" y="157.8" width="9.1" height="136.9" fill="#fcc30d" stroke="#fff" stroke-width="0.9"/>
<rect x="1020.72" y="189.1" width="9.1" height="105.6" fill="#f5e524" stroke="#fff" stroke-width="0.9"/>
<rect x="1031.68" y="128.1" width="9.1" height="166.6" fill="#f7931e" stroke="#fff" stroke-width="0.9"/>
<rect x="1042.63" y="142.9" width="9.1" height="151.8" fill="#f7931e" stroke="#fff" stroke-width="0.9"/>
<line x1="856" y1="294.7" x2="1130" y2="294.7" stroke="#ccd6eb" stroke-width="1"/>
<line x1="856.0" y1="294.7" x2="856.0" y2="304.6" stroke="#ccd6eb" stroke-width="1"/>
<text transform="translate(858.2,311.3) rotate(-45)" font-size="11.5" fill="#555" text-anchor="end" textLength="38.5" lengthAdjust="spacingAndGlyphs">Nov 11</text>
<line x1="877.9" y1="294.7" x2="877.9" y2="304.6" stroke="#ccd6eb" stroke-width="1"/>
<text transform="translate(880.1,311.3) rotate(-45)" font-size="11.5" fill="#555" text-anchor="end" textLength="32.5" lengthAdjust="spacingAndGlyphs">06:00</text>
<line x1="899.8" y1="294.7" x2="899.8" y2="304.6" stroke="#ccd6eb" stroke-width="1"/>
<text transform="translate(902.0,311.3) rotate(-45)" font-size="11.5" fill="#555" text-anchor="end" textLength="32.5" lengthAdjust="spacingAndGlyphs">12:00</text>
<line x1="921.8" y1="294.7" x2="921.8" y2="304.6" stroke="#ccd6eb" stroke-width="1"/>
<text transform="translate(924.0,311.3) rotate(-45)" font-size="11.5" fill="#555" text-anchor="end" textLength="32.5" lengthAdjust="spacingAndGlyphs">18:00</text>
<line x1="943.7" y1="294.7" x2="943.7" y2="304.6" stroke="#ccd6eb" stroke-width="1"/>
<text transform="translate(945.9,311.3) rotate(-45)" font-size="11.5" fill="#555" text-anchor="end" textLength="38.5" lengthAdjust="spacingAndGlyphs">Nov 12</text>
<line x1="965.6" y1="294.7" x2="965.6" y2="304.6" stroke="#ccd6eb" stroke-width="1"/>
<text transform="translate(967.8,311.3) rotate(-45)" font-size="11.5" fill="#555" text-anchor="end" textLength="32.5" lengthAdjust="spacingAndGlyphs">06:00</text>
<line x1="987.5" y1="294.7" x2="987.5" y2="304.6" stroke="#ccd6eb" stroke-width="1"/>
<text transform="translate(989.7,311.3) rotate(-45)" font-size="11.5" fill="#555" text-anchor="end" textLength="32.5" lengthAdjust="spacingAndGlyphs">12:00</text>
<line x1="1009.4" y1="294.7" x2="1009.4" y2="304.6" stroke="#ccd6eb" stroke-width="1"/>
<text transform="translate(1011.6,311.3) rotate(-45)" font-size="11.5" fill="#555" text-anchor="end" textLength="32.5" lengthAdjust="spacingAndGlyphs">18:00</text>
<line x1="1031.4" y1="294.7" x2="1031.4" y2="304.6" stroke="#ccd6eb" stroke-width="1"/>
<text transform="translate(1033.6,311.3) rotate(-45)" font-size="11.5" fill="#555" text-anchor="end" textLength="38.5" lengthAdjust="spacingAndGlyphs">Nov 13</text>
<line x1="1053.3" y1="294.7" x2="1053.3" y2="304.6" stroke="#ccd6eb" stroke-width="1"/>
<text transform="translate(1055.5,311.3) rotate(-45)" font-size="11.5" fill="#555" text-anchor="end" textLength="32.5" lengthAdjust="spacingAndGlyphs">06:00</text>
<line x1="1075.2" y1="294.7" x2="1075.2" y2="304.6" stroke="#ccd6eb" stroke-width="1"/>
<text transform="translate(1077.4,311.3) rotate(-45)" font-size="11.5" fill="#555" text-anchor="end" textLength="32.5" lengthAdjust="spacingAndGlyphs">12:00</text>
<line x1="1097.1" y1="294.7" x2="1097.1" y2="304.6" stroke="#ccd6eb" stroke-width="1"/>
<text transform="translate(1099.3,311.3) rotate(-45)" font-size="11.5" fill="#555" text-anchor="end" textLength="32.5" lengthAdjust="spacingAndGlyphs">18:00</text>
<line x1="1119.0" y1="294.7" x2="1119.0" y2="304.6" stroke="#ccd6eb" stroke-width="1"/>
<text transform="translate(1121.2,311.3) rotate(-45)" font-size="11.5" fill="#555" text-anchor="end" textLength="38.5" lengthAdjust="spacingAndGlyphs">Nov 14</text>
<text x="837.3" y="299.5" font-size="12" fill="#555" text-anchor="middle">0</text>
<text x="1149" y="299.5" font-size="12" fill="#555" text-anchor="middle">0</text>
<text x="837.3" y="276.6" font-size="12" fill="#555" text-anchor="middle">1</text>
<text x="1149" y="276.6" font-size="12" fill="#555" text-anchor="middle">1</text>
<text x="837.3" y="253.8" font-size="12" fill="#555" text-anchor="middle">2</text>
<text x="1149" y="253.8" font-size="12" fill="#555" text-anchor="middle">2</text>
<text x="837.3" y="230.9" font-size="12" fill="#555" text-anchor="middle">3</text>
<text x="1149" y="230.9" font-size="12" fill="#555" text-anchor="middle">3</text>
<text x="837.3" y="208.1" font-size="12" fill="#555" text-anchor="middle">4</text>
<text x="1149" y="208.1" font-size="12" fill="#555" text-anchor="middle">4</text>
<text x="837.3" y="185.2" font-size="12" fill="#555" text-anchor="middle">5</text>
<text x="1149" y="185.2" font-size="12" fill="#555" text-anchor="middle">5</text>
<text x="837.3" y="162.3" font-size="12" fill="#555" text-anchor="middle">6</text>
<text x="1149" y="162.3" font-size="12" fill="#555" text-anchor="middle">6</text>
<text x="837.3" y="139.5" font-size="12" fill="#555" text-anchor="middle">7</text>
<text x="1149" y="139.5" font-size="12" fill="#555" text-anchor="middle">7</text>
<text x="837.3" y="116.6" font-size="12" fill="#555" text-anchor="middle">8</text>
<text x="1149" y="116.6" font-size="12" fill="#555" text-anchor="middle">8</text>
<text x="837.3" y="93.8" font-size="12" fill="#555" text-anchor="middle">9</text>
<text x="1149" y="93.8" font-size="12" fill="#555" text-anchor="middle">9</text>
<text transform="translate(823.8,191) rotate(-90)" font-size="12" fill="#555" text-anchor="middle" textLength="51.5" lengthAdjust="spacingAndGlyphs">Kp index</text>
<text x="993" y="355.5" font-size="12.4" fill="#666" text-anchor="middle" textLength="86" lengthAdjust="spacingAndGlyphs">Universal Time</text>
<text x="915.5" y="367.9" font-size="15.6" fill="#111" stroke="#111" stroke-width="0.25" textLength="236.7" lengthAdjust="spacingAndGlyphs">Space Weather Prediction Center</text>
<text x="981.5" y="385.7" font-size="11.6" font-weight="bold" fill="#111" text-anchor="middle" textLength="233.7" lengthAdjust="spacingAndGlyphs">Updated Time: 2025-11-13T03:00:00.000Z</text>
<text x="981.2" y="404.3" font-size="12.8" fill="#0a52a5" text-anchor="middle" textLength="189.6" lengthAdjust="spacingAndGlyphs">NOAA Scales Geomagnetic Storms</text>
<rect x="799.5" y="409.5" width="58.4" height="45.3" fill="#8fc24d" stroke="#555" stroke-width="1"/>
<text x="809.0" y="436.5" font-size="12" fill="#2b2b2b">Kp &lt; 5</text>
<rect x="857.9" y="409.5" width="58.3" height="45.3" fill="#f5e829" stroke="#555" stroke-width="1"/>
<text x="866.4" y="427.1" font-size="12" fill="#2b2b2b">Kp = 5</text>
<text x="866.4" y="445.5" font-size="12" fill="#2b2b2b">(G1)</text>
<rect x="916.2" y="409.5" width="57.9" height="45.3" fill="#fcc30b" stroke="#555" stroke-width="1"/>
<text x="924.7" y="427.1" font-size="12" fill="#2b2b2b">Kp = 6</text>
<text x="924.7" y="445.5" font-size="12" fill="#2b2b2b">(G2)</text>
<rect x="974.1" y="409.5" width="58.1" height="45.3" fill="#f7941d" stroke="#555" stroke-width="1"/>
<text x="982.6" y="427.1" font-size="12" fill="#2b2b2b">Kp = 7</text>
<text x="982.6" y="445.5" font-size="12" fill="#2b2b2b">(G3)</text>
<rect x="1032.2" y="409.5" width="72.3" height="45.3" fill="#e82424" stroke="#555" stroke-width="1"/>
<text x="1040.7" y="427.1" font-size="12" fill="#2b2b2b">Kp = 8, 9-</text>
<text x="1040.7" y="445.5" font-size="12" fill="#2b2b2b">(G4)</text>
<rect x="1104.5" y="409.5" width="58.5" height="45.3" fill="#c8161a" stroke="#555" stroke-width="1"/>
<text x="1113.0" y="427.1" font-size="12" fill="#2b2b2b">Kp =</text>
<text x="1113.0" y="445.5" font-size="12" fill="#2b2b2b">9o (G5)</text>
</svg></body></html>
